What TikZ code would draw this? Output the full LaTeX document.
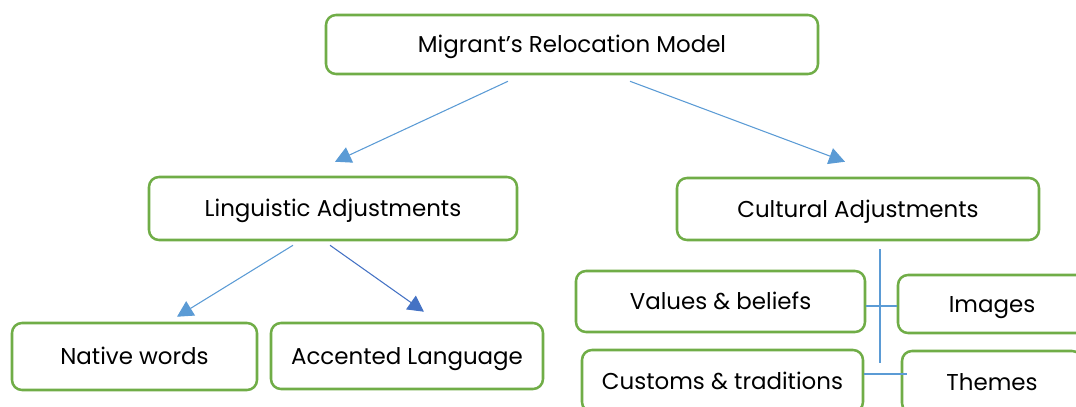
\documentclass[tikz,border=0pt]{standalone}
\usepackage{fontspec}
\setmainfont{Poppins}
\usetikzlibrary{arrows.meta,calc}
\definecolor{boxgreen}{HTML}{70AD47}
\definecolor{lightblue}{HTML}{5B9BD5}
\definecolor{darkblue}{HTML}{4472C4}
\tikzset{
  box/.style={draw=boxgreen, line width=1.9pt, rounded corners=7.5pt,
    fill=white, inner sep=0pt, text height=12pt, text depth=0pt,
    font=\fontsize{17.2}{20}\selectfont, text=black},
  arrowlink/.style={draw=lightblue, line width=0.8pt,
    -{Triangle[length=12pt,width=12.5pt]}},
  plainlink/.style={draw=lightblue, line width=0.8pt},
}
\begin{document}
\begin{tikzpicture}[x=0.75pt, y=-0.75pt]
  \useasboundingbox (0,0) rectangle (1076,407);
  \clip (0,0) rectangle (1076,407);

  % top level
  \node[box, minimum width=369pt, minimum height=44.25pt] (top) at (572,44.5) {Migrant’s Relocation Model};

  % second level
  \node[box, minimum width=276pt, minimum height=47.25pt] (ling) at (333,208.5) {Linguistic Adjustments};
  \node[box, minimum width=271.5pt, minimum height=46.5pt] (cult) at (858,209) {Cultural Adjustments};

  % linguistic branch
  \node[box, minimum width=183.75pt, minimum height=50.25pt] (native) at (134.5,356.5) {Native words};
  \node[box, minimum width=204pt, minimum height=49.5pt] (accent) at (407,356) {Accented Language};

  % cultural branch
  \node[box, minimum width=216.75pt, minimum height=45.75pt] (values) at (720.5,301.5) {Values \& beliefs};
  \node[box, minimum width=141pt, minimum height=43.5pt] (images) at (992,304) {Images};
  \node[box, minimum width=210.75pt, minimum height=46.5pt] (customs) at (722.5,381) {Customs \& traditions};
  \node[box, minimum width=135pt, minimum height=46.5pt] (themes) at (992,382) {Themes};

  % arrow end points
  \coordinate (a1s) at ($(top.south)+(-64,6)$);
  \coordinate (a1e) at ($(ling.north)+(2,-14)$);
  \coordinate (a2s) at ($(top.south)+(58,6)$);
  \coordinate (a2e) at ($(cult.north)+(-13,-15)$);
  \coordinate (a3s) at ($(ling.south)+(-40,4)$);
  \coordinate (a3e) at ($(native.north)+(42.5,-5)$);
  \coordinate (a4s) at ($(ling.south)+(-3,4)$);
  \coordinate (a4e) at ($(accent.north)+(17,-10)$);

  \draw[arrowlink] (a1s) -- (a1e);
  \draw[arrowlink] (a2s) -- (a2e);
  \draw[arrowlink] (a3s) -- (a3e);
  \draw[arrowlink, draw=darkblue] (a4s) -- (a4e);

  % cultural connectors
  \coordinate (vtop) at ($(cult.south)+(22,8)$);
  \coordinate (vbot) at (880,363);
  \coordinate (hend) at (907,374);
  \draw[plainlink] (vtop) -- (vbot);
  \draw[plainlink] (values.east |- 0,306) -- (images.west |- 0,306);
  \draw[plainlink] (customs.east |- hend) -- (hend);
\end{tikzpicture}
\end{document}
